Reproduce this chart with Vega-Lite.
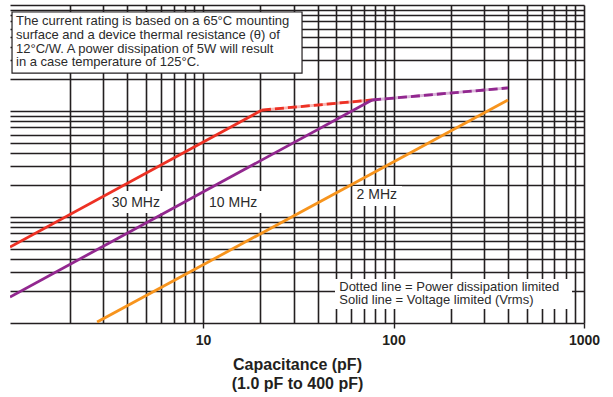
{
  "$schema": "https://vega.github.io/schema/vega-lite/v6.json",
  "width": 574,
  "height": 318,
  "autosize": {"type": "none"},
  "padding": {"left": 10, "top": 5, "right": 29, "bottom": 74},
  "background": "white",
  "config": {"view": {"stroke": null}, "font": "Liberation Sans"},
  "datasets": {
    "curves": [
      {"freq": "30 MHz", "limit": "voltage", "C": 0.97, "I": 0.52},
      {"freq": "30 MHz", "limit": "voltage", "C": 20.4, "I": 10.2},
      {"freq": "10 MHz", "limit": "voltage", "C": 0.97, "I": 0.176},
      {"freq": "10 MHz", "limit": "voltage", "C": 77.2, "I": 12.7},
      {"freq": "2 MHz", "limit": "voltage", "C": 2.78, "I": 0.102},
      {"freq": "2 MHz", "limit": "voltage", "C": 399, "I": 12.7},
      {"freq": "30 MHz", "limit": "power", "C": 20.4, "I": 10.2},
      {"freq": "30 MHz", "limit": "power", "C": 77.2, "I": 12.7},
      {"freq": "10 MHz", "limit": "power", "C": 77.2, "I": 12.7},
      {"freq": "10 MHz", "limit": "power", "C": 399, "I": 16.5}
    ],
    "labels": [
      {"kind": "freq", "text": "30 MHz", "C": 4.44, "I": 1.365},
      {"kind": "freq", "text": "10 MHz", "C": 14.4, "I": 1.356},
      {"kind": "freq", "text": "2 MHz", "C": 81.7, "I": 1.61},
      {"kind": "note", "text": ["The current rating is based on a 65°C mounting", "surface and a device thermal resistance (θ) of", "12°C/W. A power dissipation of 5W will result", "in a case temperature of 125°C."], "C": 1.043, "I": 64.1},
      {"kind": "note", "text": ["Dotted line = Power dissipation limited", "Solid line = Voltage limited (Vrms)"], "C": 51.9, "I": 0.2018}
    ],
    "boxes": [
      {"kind": "note", "C": 0.994, "C2": 33.1, "I": 22.8, "I2": 85.9},
      {"kind": "key", "C": 49.3, "C2": 865, "I": 0.1355, "I2": 0.26},
      {"kind": "freq", "C": 3.17, "C2": 6.24, "I": 1.09, "I2": 1.76},
      {"kind": "freq", "C": 10.24, "C2": 20.4, "I": 1.09, "I2": 1.76},
      {"kind": "freq", "C": 61.3, "C2": 110.8, "I": 1.27, "I2": 1.96}
    ]
  },
  "encoding": {
    "x": {
      "field": "C",
      "type": "quantitative",
      "scale": {"type": "log", "domain": [0.97, 1000], "nice": false},
      "axis": {
        "values": [2, 3, 4, 5, 6, 7, 8, 9, 10, 20, 30, 40, 50, 60, 70, 80, 90, 100, 200, 300, 400, 500, 600, 700, 800, 900, 1000],
        "grid": true,
        "gridColor": "#231f20",
        "gridWidth": 1.6,
        "gridOpacity": 1,
        "domain": false,
        "ticks": true,
        "tickSize": 5,
        "tickColor": "#231f20",
        "tickWidth": 1.4,
        "tickOpacity": {"condition": {"test": "datum.value == 10 || datum.value == 100 || datum.value == 1000", "value": 1}, "value": 0},
        "labelExpr": "(datum.value == 10 || datum.value == 100 || datum.value == 1000) ? format(datum.value, 'd') : ''",
        "labelFont": "Liberation Sans",
        "labelFontSize": 14,
        "labelFontWeight": "bold",
        "labelColor": "#231f20",
        "labelPadding": 5,
        "labelOverlap": false,
        "labelFlush": false,
        "labelBound": false,
        "title": ["Capacitance (pF)", "(1.0 pF to 400 pF)"],
        "titleFont": "Liberation Sans",
        "titleFontSize": 16,
        "titleFontWeight": "bold",
        "titleLineHeight": 19,
        "titlePadding": 9,
        "titleColor": "#231f20"
      }
    },
    "y": {
      "field": "I",
      "type": "quantitative",
      "scale": {"type": "log", "domain": [0.1, 100], "nice": false},
      "axis": {
        "values": [0.1, 0.2, 0.3, 0.4, 0.5, 0.6, 0.7, 0.8, 0.9, 1, 2, 3, 4, 5, 6, 7, 8, 9, 10, 20, 30, 40, 50, 60, 70, 80, 90, 100],
        "grid": true,
        "gridColor": "#231f20",
        "gridWidth": 1.6,
        "gridOpacity": 1,
        "labels": false,
        "ticks": false,
        "domain": false,
        "title": null
      }
    }
  },
  "layer": [
    {
      "data": {"name": "boxes"},
      "transform": [{"filter": "datum.kind === 'note'"}],
      "mark": {"type": "rect", "fill": "white", "stroke": "#231f20", "strokeWidth": 1.2},
      "encoding": {"x2": {"field": "C2"}, "y2": {"field": "I2"}}
    },
    {
      "data": {"name": "boxes"},
      "transform": [{"filter": "datum.kind !== 'note'"}],
      "mark": {"type": "rect", "fill": "white", "strokeWidth": 0},
      "encoding": {"x2": {"field": "C2"}, "y2": {"field": "I2"}}
    },
    {
      "data": {"name": "curves"},
      "transform": [{"filter": "datum.limit === 'power'"}],
      "mark": {"type": "line", "strokeWidth": 2.8, "opacity": 0.35, "clip": true},
      "encoding": {
        "color": {"field": "freq", "type": "nominal", "scale": {"domain": ["30 MHz", "10 MHz", "2 MHz"], "range": ["#ed3124", "#92278f", "#f7941d"]}, "legend": null}
      }
    },
    {
      "data": {"name": "curves"},
      "transform": [{"filter": "datum.limit === 'power'"}],
      "mark": {"type": "line", "strokeWidth": 2.8, "strokeDash": [9, 4], "clip": true},
      "encoding": {
        "color": {"field": "freq", "type": "nominal", "legend": null}
      }
    },
    {
      "data": {"name": "curves"},
      "transform": [{"filter": "datum.limit === 'voltage'"}],
      "mark": {"type": "line", "strokeWidth": 2.8, "clip": true},
      "encoding": {
        "color": {"field": "freq", "type": "nominal", "legend": null}
      }
    },
    {
      "data": {"name": "labels"},
      "transform": [{"filter": "datum.kind === 'freq'"}],
      "mark": {"type": "text", "font": "Liberation Sans", "fontSize": 14, "align": "center", "baseline": "middle", "color": "#2b2b2b"},
      "encoding": {"text": {"field": "text"}}
    },
    {
      "data": {"name": "labels"},
      "transform": [{"filter": "datum.kind === 'note'"}],
      "mark": {"type": "text", "font": "Liberation Sans", "fontSize": 13, "lineHeight": 13.6, "align": "left", "baseline": "alphabetic", "color": "#2b2b2b"},
      "encoding": {"text": {"field": "text"}}
    }
  ]
}
